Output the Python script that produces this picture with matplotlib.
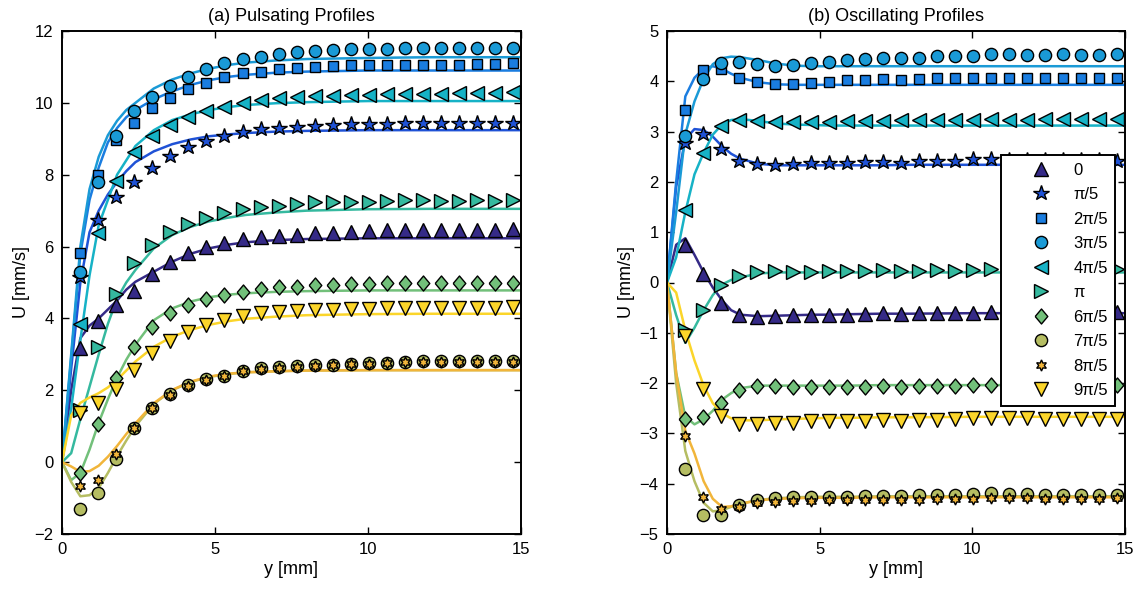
import numpy as np
import matplotlib
matplotlib.use("Agg")
import matplotlib.pyplot as plt

plt.rcParams['font.family'] = ['Liberation Sans', 'DejaVu Sans']

# ---------------- data ----------------
phase_labels = ['0', 'π/5', '2π/5', '3π/5', '4π/5', 'π', '6π/5', '7π/5', '8π/5', '9π/5']

# measurement positions (mm)
y_meas = [0.59, 1.18, 1.77, 2.36, 2.95, 3.54, 4.13, 4.72, 5.31, 5.90, 6.49, 7.08, 7.67,
          8.26, 8.85, 9.44, 10.03, 10.62, 11.21, 11.80, 12.39, 12.98, 13.57, 14.16, 14.75]
# model-curve positions (mm)
y_fit = [0, 0.3, 0.6, 0.9, 1.2, 1.5, 1.8, 2.1, 2.4, 3.0, 3.6, 4.2, 4.8, 5.4, 6.0, 7.0, 8.0, 10.0, 12.0, 15.0]

# (a) pulsating: measured
puls_0 = [3.17, 3.93, 4.36, 4.77, 5.23, 5.58, 5.81, 5.98, 6.11, 6.20, 6.26, 6.29, 6.33,
          6.37, 6.39, 6.41, 6.43, 6.46, 6.46, 6.47, 6.46, 6.46, 6.46, 6.47, 6.48]
puls_1 = [5.15, 6.74, 7.39, 7.81, 8.20, 8.53, 8.78, 8.95, 9.08, 9.18, 9.26, 9.31, 9.34,
          9.36, 9.38, 9.40, 9.40, 9.41, 9.43, 9.43, 9.43, 9.43, 9.45, 9.43, 9.45]
puls_2 = [5.81, 7.99, 8.97, 9.45, 9.85, 10.13, 10.38, 10.56, 10.71, 10.82, 10.87, 10.93, 10.96,
          11.00, 11.03, 11.04, 11.05, 11.05, 11.05, 11.05, 11.05, 11.05, 11.08, 11.07, 11.10]
puls_3 = [5.29, 7.80, 9.09, 9.77, 10.17, 10.47, 10.71, 10.93, 11.10, 11.21, 11.29, 11.35, 11.41,
          11.45, 11.47, 11.49, 11.50, 11.50, 11.52, 11.52, 11.52, 11.52, 11.54, 11.52, 11.54]
puls_4 = [3.84, 6.37, 7.82, 8.62, 9.09, 9.38, 9.61, 9.77, 9.89, 10.00, 10.08, 10.13, 10.17,
          10.19, 10.20, 10.22, 10.22, 10.24, 10.24, 10.24, 10.24, 10.27, 10.27, 10.27, 10.29]
puls_5 = [1.45, 3.21, 4.68, 5.53, 6.04, 6.41, 6.63, 6.79, 6.93, 7.04, 7.09, 7.14, 7.18,
          7.23, 7.25, 7.25, 7.25, 7.27, 7.30, 7.30, 7.27, 7.27, 7.30, 7.27, 7.30]
puls_6 = [-0.29, 1.06, 2.33, 3.21, 3.77, 4.14, 4.36, 4.54, 4.65, 4.74, 4.81, 4.87, 4.88,
          4.93, 4.93, 4.96, 4.96, 4.98, 4.98, 5.00, 5.00, 5.00, 5.00, 5.00, 5.00]
puls_7 = [-1.31, -0.87, 0.09, 0.94, 1.52, 1.90, 2.15, 2.31, 2.40, 2.55, 2.61, 2.64, 2.68,
          2.69, 2.70, 2.72, 2.75, 2.77, 2.80, 2.82, 2.82, 2.82, 2.82, 2.82, 2.82]
puls_8 = [-0.66, -0.50, 0.23, 0.96, 1.50, 1.88, 2.12, 2.29, 2.39, 2.53, 2.59, 2.63, 2.66,
          2.68, 2.70, 2.72, 2.73, 2.76, 2.78, 2.79, 2.80, 2.80, 2.80, 2.80, 2.80]
puls_9 = [1.36, 1.64, 2.04, 2.57, 3.03, 3.37, 3.63, 3.82, 3.96, 4.07, 4.14, 4.19, 4.22,
          4.23, 4.24, 4.25, 4.26, 4.28, 4.28, 4.30, 4.30, 4.30, 4.30, 4.30, 4.31]

# (a) pulsating: model curves
puls_fit_0 = [0, 2.0, 3.45, 3.8, 4.0, 4.25, 4.5, 4.8, 5.02, 5.3, 5.58, 5.8, 5.95, 6.05, 6.12, 6.18, 6.21, 6.23, 6.23, 6.23]
puls_fit_1 = [0, 2.6, 5.0, 6.4, 7.0, 7.45, 7.8, 8.1, 8.35, 8.65, 8.85, 8.98, 9.07, 9.12, 9.16, 9.2, 9.22, 9.24, 9.24, 9.24]
puls_fit_2 = [0, 2.9, 5.8, 7.3, 8.2, 8.9, 9.3, 9.6, 9.8, 10.1, 10.32, 10.5, 10.63, 10.72, 10.78, 10.84, 10.87, 10.9, 10.9, 10.9]
puls_fit_3 = [0, 3.0, 6.0, 7.6, 8.5, 9.1, 9.5, 9.8, 10.0, 10.4, 10.65, 10.82, 10.95, 11.05, 11.12, 11.18, 11.22, 11.25, 11.27, 11.27]
puls_fit_4 = [0, 1.5, 3.4, 5.2, 6.6, 7.3, 8.0, 8.4, 8.8, 9.24, 9.52, 9.68, 9.8, 9.88, 9.94, 9.99, 10.02, 10.05, 10.05, 10.05]
puls_fit_5 = [0, 0.25, 1.2, 2.1, 3.0, 3.85, 4.55, 5.0, 5.35, 5.95, 6.32, 6.55, 6.7, 6.8, 6.88, 6.95, 7.0, 7.04, 7.05, 7.05]
puls_fit_6 = [0, -0.5, -0.3, 0.35, 1.1, 1.75, 2.35, 2.85, 3.27, 3.95, 4.28, 4.47, 4.59, 4.66, 4.7, 4.74, 4.76, 4.78, 4.78, 4.78]
puls_fit_7 = [0, -0.55, -0.95, -0.92, -0.72, -0.3, 0.17, 0.6, 1.0, 1.62, 2.0, 2.23, 2.37, 2.45, 2.5, 2.53, 2.55, 2.56, 2.56, 2.56]
puls_fit_8 = [0, -0.12, -0.27, -0.25, -0.1, 0.15, 0.45, 0.78, 1.08, 1.64, 2.01, 2.24, 2.38, 2.46, 2.5, 2.53, 2.55, 2.56, 2.56, 2.56]
puls_fit_9 = [0, 1.3, 1.65, 1.8, 1.92, 2.08, 2.29, 2.55, 2.8, 3.21, 3.49, 3.68, 3.82, 3.92, 3.99, 4.05, 4.09, 4.12, 4.13, 4.13]

# (b) oscillating: measured
osc_0 = [0.75, 0.16, -0.40, -0.64, -0.69, -0.67, -0.64, -0.64, -0.64, -0.64, -0.63, -0.61, -0.63,
         -0.61, -0.61, -0.61, -0.61, -0.59, -0.59, -0.59, -0.59, -0.59, -0.59, -0.59, -0.59]
osc_1 = [2.78, 2.96, 2.66, 2.41, 2.35, 2.33, 2.35, 2.37, 2.38, 2.38, 2.39, 2.39, 2.38,
         2.41, 2.41, 2.41, 2.45, 2.45, 2.44, 2.44, 2.44, 2.44, 2.44, 2.44, 2.41]
osc_2 = [3.43, 4.22, 4.24, 4.07, 3.99, 3.95, 3.95, 3.97, 3.98, 4.02, 4.02, 4.04, 4.03,
         4.04, 4.06, 4.06, 4.06, 4.07, 4.06, 4.06, 4.06, 4.06, 4.07, 4.06, 4.06]
osc_3 = [2.91, 4.04, 4.37, 4.38, 4.34, 4.30, 4.32, 4.36, 4.38, 4.42, 4.44, 4.47, 4.46,
         4.47, 4.50, 4.50, 4.50, 4.54, 4.54, 4.52, 4.52, 4.54, 4.52, 4.52, 4.54]
osc_4 = [1.45, 2.57, 3.11, 3.24, 3.22, 3.19, 3.19, 3.19, 3.20, 3.21, 3.22, 3.22, 3.23,
         3.23, 3.24, 3.24, 3.24, 3.26, 3.24, 3.24, 3.26, 3.26, 3.26, 3.26, 3.26]
osc_5 = [-0.95, -0.55, -0.05, 0.12, 0.20, 0.22, 0.20, 0.20, 0.22, 0.22, 0.22, 0.24, 0.22,
         0.22, 0.24, 0.22, 0.24, 0.26, 0.26, 0.26, 0.26, 0.26, 0.26, 0.26, 0.26]
osc_6 = [-2.71, -2.68, -2.39, -2.13, -2.05, -2.05, -2.07, -2.07, -2.07, -2.07, -2.08, -2.05, -2.08,
         -2.05, -2.06, -2.06, -2.03, -2.03, -2.03, -2.03, -2.03, -2.03, -2.03, -2.03, -2.03]
osc_7 = [-3.71, -4.62, -4.62, -4.42, -4.32, -4.29, -4.27, -4.27, -4.27, -4.26, -4.25, -4.24, -4.25,
         -4.22, -4.22, -4.22, -4.20, -4.19, -4.20, -4.20, -4.22, -4.22, -4.22, -4.22, -4.22]
osc_8 = [-3.05, -4.26, -4.51, -4.46, -4.38, -4.36, -4.34, -4.34, -4.33, -4.33, -4.32, -4.32, -4.33,
         -4.32, -4.31, -4.30, -4.30, -4.29, -4.29, -4.29, -4.30, -4.30, -4.30, -4.30, -4.29]
osc_9 = [-1.07, -2.12, -2.65, -2.81, -2.82, -2.80, -2.79, -2.76, -2.76, -2.76, -2.75, -2.74, -2.75,
         -2.74, -2.73, -2.72, -2.70, -2.70, -2.70, -2.70, -2.72, -2.72, -2.72, -2.72, -2.72]

# (b) oscillating: model curves
osc_fit_0 = [0, 0.75, 0.88, 0.55, 0.2, -0.1, -0.35, -0.55, -0.64, -0.67, -0.66, -0.65, -0.64, -0.64, -0.63, -0.62, -0.62, -0.61, -0.61, -0.61]
osc_fit_1 = [0, 1.9, 2.85, 3.05, 3.03, 2.9, 2.71, 2.56, 2.46, 2.36, 2.33, 2.33, 2.33, 2.33, 2.33, 2.33, 2.34, 2.34, 2.34, 2.34]
osc_fit_2 = [0, 2.0, 3.7, 4.07, 4.25, 4.3, 4.25, 4.15, 4.07, 3.98, 3.94, 3.93, 3.93, 3.93, 3.93, 3.93, 3.93, 3.93, 3.93, 3.93]
osc_fit_3 = [0, 1.4, 2.95, 3.6, 4.05, 4.34, 4.46, 4.49, 4.48, 4.42, 4.35, 4.31, 4.3, 4.3, 4.3, 4.3, 4.3, 4.3, 4.3, 4.3]
osc_fit_4 = [0, 0.5, 1.4, 2.15, 2.58, 2.94, 3.14, 3.23, 3.25, 3.21, 3.16, 3.14, 3.13, 3.12, 3.12, 3.12, 3.12, 3.12, 3.12, 3.12]
osc_fit_5 = [0, -0.65, -1.2, -0.9, -0.55, -0.25, -0.04, 0.05, 0.1, 0.18, 0.2, 0.2, 0.2, 0.2, 0.2, 0.2, 0.2, 0.2, 0.2, 0.2]
osc_fit_6 = [0, -1.8, -2.67, -2.82, -2.72, -2.55, -2.33, -2.2, -2.1, -2.05, -2.05, -2.05, -2.05, -2.05, -2.05, -2.04, -2.04, -2.04, -2.04, -2.04]
osc_fit_7 = [0, -2.0, -3.35, -3.95, -4.38, -4.55, -4.53, -4.46, -4.4, -4.32, -4.29, -4.27, -4.26, -4.26, -4.26, -4.25, -4.25, -4.25, -4.25, -4.25]
osc_fit_8 = [0, -1.8, -2.95, -3.4, -3.95, -4.3, -4.46, -4.45, -4.4, -4.33, -4.3, -4.29, -4.28, -4.28, -4.28, -4.27, -4.27, -4.27, -4.27, -4.27]
osc_fit_9 = [0, -0.2, -0.95, -1.55, -2.05, -2.4, -2.6, -2.7, -2.74, -2.74, -2.72, -2.71, -2.7, -2.69, -2.69, -2.68, -2.68, -2.67, -2.67, -2.67]

puls_meas = [puls_0, puls_1, puls_2, puls_3, puls_4, puls_5, puls_6, puls_7, puls_8, puls_9]
puls_fit = [puls_fit_0, puls_fit_1, puls_fit_2, puls_fit_3, puls_fit_4,
            puls_fit_5, puls_fit_6, puls_fit_7, puls_fit_8, puls_fit_9]
osc_meas = [osc_0, osc_1, osc_2, osc_3, osc_4, osc_5, osc_6, osc_7, osc_8, osc_9]
osc_fit = [osc_fit_0, osc_fit_1, osc_fit_2, osc_fit_3, osc_fit_4,
           osc_fit_5, osc_fit_6, osc_fit_7, osc_fit_8, osc_fit_9]

# ---------------- styles ----------------
colors = ['#352a87', '#1f52d6', '#1a7de0', '#1a9ad6', '#16b2c6',
          '#35b99f', '#72c07a', '#b5bd62', '#f1b53a', '#fbd52a']
diamond = [(-0.42, 0.0), (0.0, 0.5), (0.42, 0.0), (0.0, -0.5), (-0.42, 0.0)]
markers = ['^', '*', 's', 'o', '<', '>', diamond, 'o', (6, 1, 0), 'v']
msizes = [10, 11.5, 7.6, 8.8, 10, 10, 10.8, 8.8, 8.0, 10]

fig = plt.figure(figsize=(11.4, 5.89), dpi=100)
ax1 = fig.add_axes([62 / 1140, 1 - 534 / 589, 459 / 1140, 503 / 589])
ax2 = fig.add_axes([667 / 1140, 1 - 534 / 589, 458 / 1140, 503 / 589])

FS = 12
FS_LAB = 13


def draw(ax, meas, fits, title, ylim, yticks):
    for i in range(10):
        ax.plot(y_fit, fits[i], '-', color=colors[i], lw=1.8, zorder=2,
                solid_joinstyle='round')
    handles = []
    for i in range(10):
        h, = ax.plot(y_meas, meas[i], linestyle='none', marker=markers[i],
                     ms=msizes[i], mfc=colors[i], mec='black', mew=1.0,
                     zorder=3, label=phase_labels[i])
        handles.append(h)
    ax.set_xlim(0, 15)
    ax.set_ylim(*ylim)
    ax.set_xticks([0, 5, 10, 15])
    ax.set_yticks(yticks)
    ax.tick_params(direction='in', top=True, right=True, length=5, width=1.0,
                   labelsize=FS, pad=6)
    for s in ax.spines.values():
        s.set_linewidth(1.4)
    ax.set_xlabel('y [mm]', fontsize=FS_LAB, labelpad=3)
    ax.set_ylabel('U [mm/s]', fontsize=FS_LAB, labelpad=3)
    ax.set_title(title, fontsize=FS_LAB, pad=7)
    return handles


draw(ax1, puls_meas, puls_fit, '(a) Pulsating Profiles', (-2, 12), list(range(-2, 13, 2)))
hs = draw(ax2, osc_meas, osc_fit, '(b) Oscillating Profiles', (-5, 5), list(range(-5, 6, 1)))

leg = ax2.legend(handles=hs, loc='upper right', bbox_to_anchor=(0.979, 0.753),
                 fontsize=FS, frameon=True, fancybox=False, borderpad=0.45,
                 handlelength=3.9, handletextpad=0.0, labelspacing=0.57,
                 borderaxespad=0.0, framealpha=1.0)
leg.get_frame().set_edgecolor('black')
leg.get_frame().set_linewidth(1.4)
leg.set_zorder(10)

fig.savefig('out.png', dpi=100)
